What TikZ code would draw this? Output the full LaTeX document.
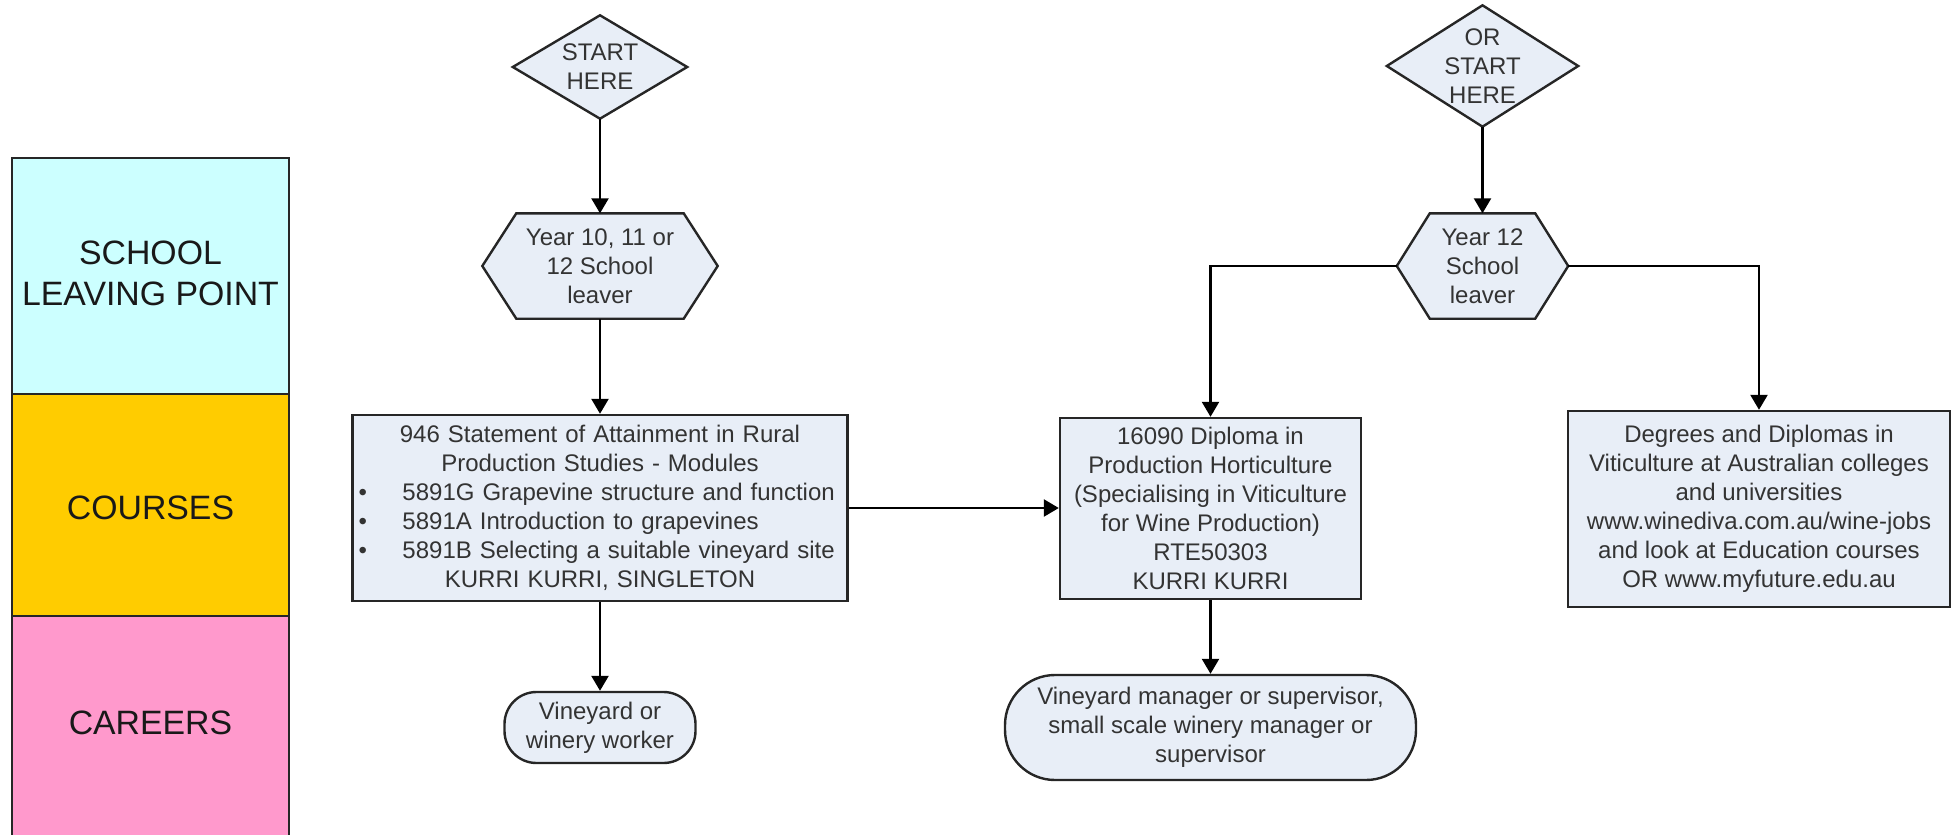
\documentclass[tikz,border=0pt]{standalone}
\usepackage{fontspec}
\setmainfont{Liberation Sans}
\usetikzlibrary{arrows.meta,backgrounds,calc}
\definecolor{nodefill}{RGB}{232,238,247}
\definecolor{laneA}{RGB}{204,255,255}
\definecolor{laneB}{RGB}{255,204,0}
\definecolor{laneC}{RGB}{255,153,204}
\definecolor{nodetext}{RGB}{51,51,51}
\begin{document}
\begin{tikzpicture}[x=1pt,y=-1pt,
  every node/.style={font=\fontsize{24}{29}\selectfont, text=nodetext, inner sep=0pt},
  box/.style={draw=black!85, line width=2.4pt, fill=nodefill, align=center},
  shapeonly/.style={align=center},
  lane/.style={draw=black!85, line width=2.4pt},
  lanetext/.style={font=\fontsize{33.8}{41}\selectfont, text=black!90, align=center},
  conn/.style={line width=2.4pt, draw=black, -{Triangle[width=17pt,length=15pt]}},
  outline/.style={draw=black!85, line width=2.4pt, fill=nodefill, line join=miter},
]
\useasboundingbox (0,0) rectangle (1957,835);

% lanes
\path[lane, fill=laneA] (12,158) rectangle (289,394);
\path[lane, fill=laneB] (12,394) rectangle (289,616);
\path[lane, fill=laneC] (12,616) rectangle (289,845);
\node[lanetext] (lane1) at (150.5,273.5) {SCHOOL\\LEAVING POINT};
\node[lanetext] (lane2) at (150.5,508) {COURSES};
\node[lanetext] (lane3) at (150.5,723) {CAREERS};

% left path
\node[shapeonly, minimum width=174pt, minimum height=103pt] (d1) at (600,67) {START\\HERE};
\node[shapeonly, minimum width=235pt, minimum height=105pt] (h1) at (600,266) {Year 10, 11 or\\12 School\\leaver};
\node[box, minimum width=495pt, minimum height=186pt, text width=495pt] (b1) at (600,508) {946 Statement of Attainment in Rural\\
Production Studies - Modules\\
\makebox[495pt][l]{\hspace{6pt}\makebox[44pt][l]{\textbullet}5891G Grapevine structure and function}\\
\makebox[495pt][l]{\hspace{6pt}\makebox[44pt][l]{\textbullet}5891A Introduction to grapevines}\\
\makebox[495pt][l]{\hspace{6pt}\makebox[44pt][l]{\textbullet}5891B Selecting a suitable vineyard site}\\
KURRI KURRI, SINGLETON};
\node[box, rounded corners=32pt, minimum width=191pt, minimum height=71pt] (t1) at (600,727.5) {Vineyard or\\winery worker};

% right path
\node[shapeonly, minimum width=191pt, minimum height=121pt] (d2) at (1482.5,66) {OR\\START\\HERE};
\node[shapeonly, minimum width=171pt, minimum height=105pt] (h2) at (1482.5,266) {Year 12\\School\\leaver};
\node[box, minimum width=301pt, minimum height=181pt] (b2) at (1210.5,508.5) {16090 Diploma in\\Production Horticulture\\(Specialising in Viticulture\\for Wine Production)\\RTE50303\\KURRI KURRI};
\node[box, rounded corners=50pt, minimum width=411pt, minimum height=105pt] (t2) at (1210.5,727.5) {Vineyard manager or supervisor,\\small scale winery manager or\\supervisor};
\node[box, minimum width=382pt, minimum height=196pt] (b3) at (1759,509) {Degrees and Diplomas in\\Viticulture at Australian colleges\\and universities\\www.winediva.com.au/wine-jobs\\and look at Education courses\\OR www.myfuture.edu.au};

\begin{pgfonlayer}{background}
\path[outline] (d1.north) -- (d1.east) -- (d1.south) -- (d1.west) -- cycle;
\path[outline] (d2.north) -- (d2.east) -- (d2.south) -- (d2.west) -- cycle;
\path[outline] (h1.west) -- ([xshift=34pt]h1.north west) -- ([xshift=-34pt]h1.north east) -- (h1.east) -- ([xshift=-34pt]h1.south east) -- ([xshift=34pt]h1.south west) -- cycle;
\path[outline] (h2.west) -- ([xshift=33pt]h2.north west) -- ([xshift=-33pt]h2.north east) -- (h2.east) -- ([xshift=-33pt]h2.south east) -- ([xshift=33pt]h2.south west) -- cycle;
\end{pgfonlayer}

% connectors
\draw[conn] (d1.south) -- (h1.north);
\draw[conn] (h1.south) -- (b1.north);
\draw[conn] (b1.south) -- (t1.north);
\draw[conn] (b1.east) -- (b1.east -| b2.west);
\draw[conn] (d2.south) -- (h2.north);
\draw[conn] (h2.west) -| (b2.north);
\draw[conn] (h2.east) -| (b3.north);
\draw[conn] (b2.south) -- (t2.north);
\end{tikzpicture}
\end{document}
